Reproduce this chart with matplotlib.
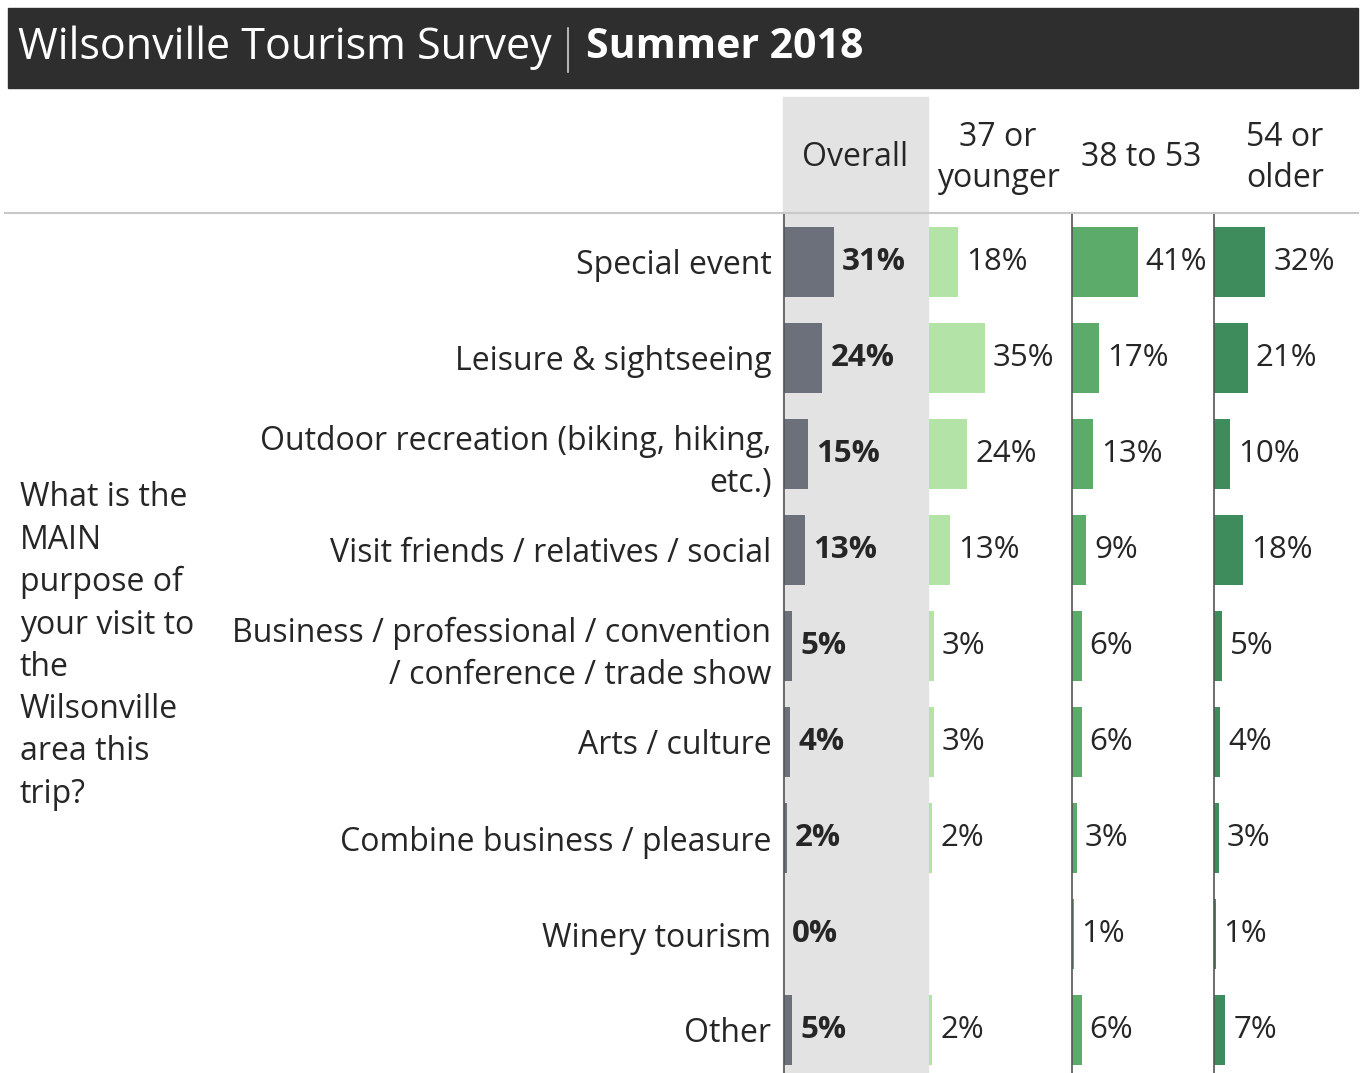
import numpy as np
import matplotlib.pyplot as plt
from matplotlib.patches import Rectangle
from matplotlib.lines import Line2D

categories = ['Special event', 'Leisure & sightseeing',
              'Outdoor recreation (biking, hiking,\netc.)',
              'Visit friends / relatives / social',
              'Business / professional / convention\n/ conference / trade show',
              'Arts / culture', 'Combine business / pleasure',
              'Winery tourism', 'Other']
groups = ['Overall', '37 or\nyounger', '38 to 53', '54 or\nolder']
overall = [31, 24, 15, 13, 5, 4, 2, 0, 5]
young = [18, 35, 24, 13, 3, 3, 2, None, 2]
middle = [41, 17, 13, 9, 6, 6, 3, 1, 6]
older = [32, 21, 10, 18, 5, 4, 3, 1, 7]
question = 'What is the\nMAIN\npurpose of\nyour visit to\nthe\nWilsonville\narea this\ntrip?'

W, H = 1361, 1073
PX_PER_PCT = 1.6
ROW_PX = 96


def rect(x0, y0, x1, y1):
    return [x0 / W, 1 - y1 / H, (x1 - x0) / W, (y1 - y0) / H]


plt.rcParams['font.family'] = ['Open Sans', 'DejaVu Sans']
txt = '#262626'
fs = 23
fs_val = 22.5

fig = plt.figure(figsize=(W / 100, H / 100), dpi=100)

# title bar and overall column background
fig.patches.append(Rectangle((8 / W, 1 - 88 / H), 1350 / W, 80 / H,
                             transform=fig.transFigure, color='#2e2e2e', zorder=-2))
fig.patches.append(Rectangle((783 / W, 0), 145 / W, 1 - 97 / H,
                             transform=fig.transFigure, color='#e3e3e3', zorder=-2))
fig.add_artist(Line2D([5 / W, 1358 / W], [1 - 213 / H] * 2, color='#c8c8c8', lw=1.5))

panels = [
    (overall, 784, 928, '#6c707b', True, True),
    (young, 929, 1071, '#b3e3a6', False, False),
    (middle, 1072, 1213, '#5cab6a', False, True),
    (older, 1214, 1358, '#3e8b5c', False, True),
]
y = np.arange(len(categories))
axes = []
for vals, x0, x1, color, bold, spine in panels:
    ax = fig.add_axes(rect(x0, 214, x1, H))
    ax.set_facecolor('none')
    ax.set_xlim(0, (x1 - x0) / PX_PER_PCT)
    ax.set_ylim(-0.5 + (H - 214) / ROW_PX, -0.5)
    v = np.array([np.nan if a is None else a for a in vals], dtype=float)
    ax.barh(y, v, height=0.73, color=color)
    for yi, a in zip(y, vals):
        if a is None:
            continue
        ax.annotate(f'{a}%', (a, yi), xytext=(8, 0), textcoords='offset pixels',
                    ha='left', va='center', fontsize=fs_val, color=txt,
                    fontweight='bold' if bold else 'normal',
                    annotation_clip=False)
    ax.set_xticks([])
    ax.set_yticks([])
    for s in ax.spines.values():
        s.set_visible(False)
    if spine:
        ax.spines['left'].set_visible(True)
        ax.spines['left'].set_color('#555555')
        ax.spines['left'].set_linewidth(1.2)
    axes.append(ax)

axes[0].set_yticks(y, categories, fontsize=fs, color=txt)
axes[0].tick_params(axis='y', length=0, pad=9)
for lbl in axes[0].get_yticklabels():
    lbl.set_linespacing(1.37)

# column headers
for g, xc in zip(groups, [855, 998, 1141, 1285]):
    fig.text(xc / W, 1 - 158 / H, g, ha='center', va='center', fontsize=fs,
             color=txt, linespacing=1.3)

fig.text(20 / W, 1 - 646 / H, question, ha='left', va='center', fontsize=fs,
         color=txt, linespacing=1.37)

# title
t1 = fig.text(18 / W, 1 - 48 / H, 'Wilsonville Tourism Survey', color='white',
              fontsize=31, va='center')
fig.canvas.draw()
bb = t1.get_window_extent()
sep = bb.x1 + 16
fig.add_artist(Line2D([sep / W, sep / W], [1 - 28 / H, 1 - 72 / H], color='#d0d0d0', lw=1.2))
fig.text((sep + 18) / W, 1 - 48 / H, 'Summer 2018', color='white', fontsize=29.5,
         fontweight='bold', va='center')

fig.savefig('out.png', dpi=100, facecolor='white')
